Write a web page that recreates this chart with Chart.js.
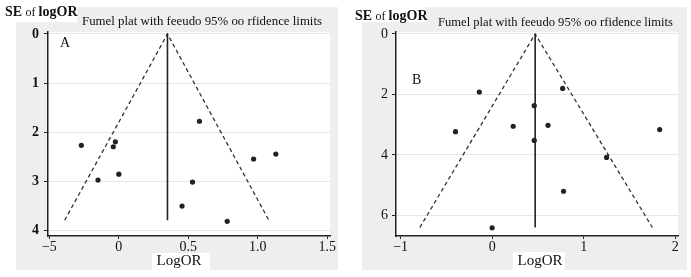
<!DOCTYPE html>
<html>
<head>
<meta charset="utf-8">
<script src="https://cdn.jsdelivr.net/npm/chart.js@4.4.1/dist/chart.umd.min.js"></script>
<style>
  body { margin: 0; background: #fff; }
  #wrap { position: relative; width: 691px; height: 277px; }
  canvas { position: absolute; top: 0; }
</style>
</head>
<body>
<div id="wrap">
  <canvas id="chartA" width="345" height="277" style="left:0"></canvas>
  <canvas id="chartB" width="346" height="277" style="left:345px"></canvas>
</div>
<script>
// Panel A - studies (logOR, SE)
const logOrA = [0.58, -0.27, -0.025, -0.04, -0.15, 0.0, 0.53, 0.455, 0.78, 0.97, 1.13];
const seA = [1.78, 2.27, 2.2, 2.3, 2.98, 2.86, 3.02, 3.51, 3.82, 2.55, 2.45];
const pooledA = 0.35;
const funnelXA = [-0.39, 0.35, 1.08];
const funnelYA = [3.8, 0, 3.8];
const yTicksA = [0, 1, 2, 3, 4];
const xTicksA = [-0.5, 0, 0.5, 1, 1.5];
const xLabelsA = ['\u22125', '0', '0.5', '1.0', '1.5'];

// Panel B
const logOrB = [-0.14, 0.77, 0.46, -0.40, 0.23, 0.61, 1.83, 0.46, 1.25, 0.78, 0.0];
const seB = [1.92, 1.8, 2.37, 3.23, 3.05, 3.02, 3.16, 3.52, 4.08, 5.2, 6.41];
const pooledB = 0.47;
const funnelXB = [-0.79, 0.47, 1.75];
const funnelYB = [6.4, 0, 6.4];
const yTicksB = [0, 2, 4, 6];
const xTicksB = [-1, 0, 1, 2];
const xLabelsB = ['\u22121', '0', '1', '2'];

const titleText = 'Fumel plat with feeudo 95% oo rfidence limits';
const serif = "'Liberation Serif', 'Times New Roman', serif";

const panelPlugin = {
  id: 'panel',
  beforeDraw(chart, args, o) {
    const c = chart.ctx, a = chart.chartArea;
    c.save();
    c.fillStyle = '#eeeeee';
    c.fillRect(o.gray[0], o.gray[1], o.gray[2], o.gray[3]);
    c.fillStyle = '#ffffff';
    c.fillRect(o.seBox[0], o.seBox[1], o.seBox[2], o.seBox[3]);
    c.fillRect(o.xBox[0], o.xBox[1], o.xBox[2], o.xBox[3]);
    c.fillRect(a.left, a.top, a.right - a.left, a.bottom - a.top);
    c.restore();
  },
  afterDraw(chart, args, o) {
    const c = chart.ctx;
    c.save();
    c.fillStyle = '#111';
    c.textBaseline = 'alphabetic';
    c.textAlign = 'left';
    let x = o.se[0];
    c.font = 'bold 14px ' + serif;
    c.fillText('SE', x, o.se[1]);
    x += c.measureText('SE ').width;
    c.font = '12px ' + serif;
    c.fillText('of', x, o.se[1]);
    x += c.measureText('of ').width;
    c.font = 'bold 14px ' + serif;
    c.fillText('logOR', x, o.se[1]);
    c.font = '13px ' + serif;
    const w = c.measureText(titleText).width;
    c.save();
    c.translate(o.title[0], o.title[1]);
    c.scale(o.title[2] / w, 1);
    c.fillText(titleText, 0, 0);
    c.restore();
    c.font = '14px ' + serif;
    c.fillText(o.letter, o.letterPos[0], o.letterPos[1]);
    c.textAlign = 'center';
    c.font = '15px ' + serif;
    c.fillText('LogOR', o.xLabel[0], o.xLabel[1]);
    c.restore();
  }
};

function makeChart(id, xs, ys, pooled, fx, fy, cfg) {
  const pts = xs.map((v, i) => ({ x: v, y: ys[i] }));
  const ymax = Math.max(...fy);
  new Chart(document.getElementById(id), {
    type: 'scatter',
    data: {
      datasets: [
        {
          data: pts, pointRadius: 2.6, pointBackgroundColor: '#222',
          pointBorderWidth: 0, order: 1
        },
        {
          type: 'line', data: [{ x: pooled, y: 0 }, { x: pooled, y: ymax }],
          borderColor: '#222', borderWidth: 1.6, pointRadius: 0, order: 2
        },
        {
          type: 'line', data: fx.map((v, i) => ({ x: v, y: fy[i] })),
          borderColor: '#333', borderWidth: 1.3, borderDash: [4, 3],
          pointRadius: 0, order: 3
        }
      ]
    },
    options: {
      responsive: false,
      animation: false,
      events: [],
      layout: { padding: { left: 0, right: cfg.padRight, top: 32, bottom: 0 } },
      plugins: { legend: { display: false }, tooltip: { enabled: false }, panel: cfg.panel },
      scales: {
        x: {
          type: 'linear', min: cfg.xMin, max: cfg.xMax,
          afterBuildTicks: s => { s.ticks = cfg.xTicks.map(v => ({ value: v })); },
          afterFit: s => { s.height = 41; },
          ticks: {
            callback: (v) => cfg.xLabels[cfg.xTicks.indexOf(v)],
            font: { family: serif, size: 14 }, color: '#111', padding: 0, maxRotation: 0
          },
          grid: { drawOnChartArea: false, drawTicks: true, tickLength: 3, color: '#222' },
          border: { color: '#222', width: 1.5 }
        },
        y: {
          type: 'linear', reverse: true, min: cfg.yMin, max: cfg.yMax,
          afterBuildTicks: s => { s.ticks = cfg.yTicks.map(v => ({ value: v })); },
          afterFit: s => { s.width = cfg.axisLeft; },
          ticks: {
            font: { family: serif, size: 14, weight: cfg.yWeight }, color: '#111', padding: cfg.yPad
          },
          grid: {
            color: '#e6e6e6', lineWidth: 1, drawTicks: true, tickLength: 4,
            tickColor: '#222'
          },
          border: { color: '#222', width: 1.5 }
        }
      }
    },
    plugins: [panelPlugin]
  });
}

makeChart('chartA', logOrA, seA, pooledA, funnelXA, funnelYA, {
  padRight: 15, axisLeft: 48, xMin: -0.51, xMax: 1.52, yMin: -0.04, yMax: 4.12,
  xTicks: xTicksA, xLabels: xLabelsA, yTicks: yTicksA, yWeight: 'bold', yPad: 5,
  panel: {
    gray: [16, 7, 322, 263], seBox: [0, 0, 77, 22], xBox: [152, 253, 58, 24],
    se: [5, 16], title: [82, 25, 240], letter: 'A', letterPos: [60, 47], xLabel: [179, 265]
  }
});

makeChart('chartB', logOrB, seB, pooledB, funnelXB, funnelYB, {
  padRight: 13, axisLeft: 51, xMin: -1.05, xMax: 2.03, yMin: -0.066, yMax: 6.68,
  xTicks: xTicksB, xLabels: xLabelsB, yTicks: yTicksB, yWeight: 'normal', yPad: 4,
  panel: {
    gray: [17, 7, 325, 263], seBox: [0, 0, 80, 22], xBox: [168, 252, 52, 25],
    se: [10, 20], title: [93, 26, 235], letter: 'B', letterPos: [67, 84], xLabel: [195, 265]
  }
});
</script>
</body>
</html>
